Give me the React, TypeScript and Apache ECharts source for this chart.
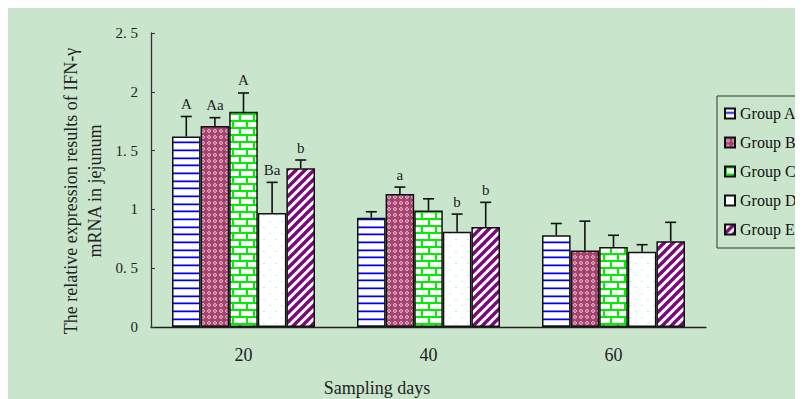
import React, { useEffect, useRef } from "react";
import * as echarts from "echarts";

const categories = ["20", "40", "60"];
const groupNames = ["Group A", "Group B", "Group C", "Group D", "Group E"];
const groupA = [1.62, 0.93, 0.78];
const groupB = [1.71, 1.13, 0.65];
const groupC = [1.83, 0.99, 0.68];
const groupD = [0.97, 0.81, 0.64];
const groupE = [1.35, 0.85, 0.73];
const errA = [0.17, 0.05, 0.1];
const errB = [0.07, 0.06, 0.25];
const errC = [0.16, 0.1, 0.1];
const errD = [0.26, 0.15, 0.06];
const errE = [0.07, 0.21, 0.16];
const letterA = ["A", "", ""];
const letterB = ["Aa", "a", ""];
const letterC = ["A", "", ""];
const letterD = ["Ba", "b", ""];
const letterE = ["b", "b", ""];

const BG = "#c9e6cd";
const FONT = "'Liberation Serif', 'Times New Roman', serif";
const CAT_GAP = 0.227;

function tile(w: number, h: number, draw: (c: CanvasRenderingContext2D) => void) {
  const cv = document.createElement("canvas");
  cv.width = w;
  cv.height = h;
  const ctx = cv.getContext("2d")!;
  draw(ctx);
  return { image: cv.toDataURL(), repeat: "repeat", imageWidth: w, imageHeight: h } as any;
}

function makePatterns() {
  const pA = tile(8, 23, (c) => {
    c.fillStyle = "#ffffff";
    c.fillRect(0, 0, 8, 23);
    for (const y of [3, 11, 18]) {
      c.fillStyle = "#7a7aff";
      c.fillRect(0, y, 8, 1);
      c.fillStyle = "#0000f0";
      c.fillRect(0, y + 1, 8, 1);
      c.fillStyle = "#c0c0ff";
      c.fillRect(0, y + 2, 8, 1);
    }
  });
  const pB = tile(6, 6, (c) => {
    c.fillStyle = "#a4446f";
    c.fillRect(0, 0, 6, 6);
    c.fillStyle = "#dca2bc";
    c.fillRect(2, 1, 2, 4);
    c.fillRect(1, 2, 4, 2);
    c.fillStyle = "#c27896";
    c.fillRect(2, 2, 2, 2);
  });
  const pC = tile(14, 14, (c) => {
    c.fillStyle = "#ffffff";
    c.fillRect(0, 0, 14, 14);
    c.fillStyle = "#00ee00";
    c.fillRect(0, 0, 14, 2);
    c.fillRect(0, 7, 14, 2);
    c.fillRect(0, 0, 2, 7);
    c.fillRect(7, 7, 2, 7);
  });
  const pD = tile(12, 12, (c) => {
    c.fillStyle = "#ffffff";
    c.fillRect(0, 0, 12, 12);
    c.fillStyle = "#b8f0f4";
    c.fillRect(3, 3, 2, 1);
    c.fillRect(9, 9, 2, 1);
  });
  const pE = tile(9, 9, (c) => {
    c.fillStyle = "#ffffff";
    c.fillRect(0, 0, 9, 9);
    c.strokeStyle = "#7a0a7a";
    c.lineWidth = 3.4;
    for (const off of [-9, 0, 9]) {
      c.beginPath();
      c.moveTo(off - 2, 11);
      c.lineTo(off + 11, -2);
      c.stroke();
    }
  });
  return [pA, pB, pC, pD, pE];
}

export default function App() {
  const ref = useRef<HTMLDivElement>(null);
  useEffect(() => {
    document.documentElement.style.overflow = "hidden";
    const chart = echarts.init(ref.current!, null, { renderer: "svg" });
    const patterns = makePatterns();
    const values = [groupA, groupB, groupC, groupD, groupE];
    const errs = [errA, errB, errC, errD, errE];
    const letters = [letterA, letterB, letterC, letterD, letterE];

    const barSeries = groupNames.map((name, i) => ({
      type: "bar",
      name,
      data: values[i],
      barGap: "0%",
      barCategoryGap: CAT_GAP * 100 + "%",
      itemStyle: { color: patterns[i], borderColor: "#111", borderWidth: 1.5 },
      z: 2,
    }));

    const errSeries = groupNames.map((name, i) => ({
      type: "custom",
      name: "err" + i,
      z: 3,
      encode: { x: 0, y: 1 },
      data: categories.map((_, k) => [k, values[i][k], errs[i][k]]),
      renderItem: (params: any, api: any) => {
        const k = api.value(0);
        const v = api.value(1);
        const e = api.value(2);
        const band = api.size([1, 0])[0];
        const bw = (band * (1 - CAT_GAP)) / 5;
        const p0 = api.coord([k, v]);
        const p1 = api.coord([k, v + e]);
        const x = p0[0] + (i - 2) * bw;
        const children: any[] = [
          { type: "line", shape: { x1: x, y1: p0[1], x2: x, y2: p1[1] }, style: { stroke: "#111", lineWidth: 1.6 } },
          { type: "line", shape: { x1: x - 5.5, y1: p1[1], x2: x + 5.5, y2: p1[1] }, style: { stroke: "#111", lineWidth: 1.6 } },
        ];
        const lab = letters[i][params.dataIndex];
        if (lab) {
          children.push({
            type: "text",
            style: {
              text: lab,
              x,
              y: p1[1] - 5,
              align: "center",
              verticalAlign: "bottom",
              font: "15px " + FONT,
              fill: "#222",
            },
          });
        }
        return { type: "group", children };
      },
    }));

    chart.setOption({
      animation: false,
      backgroundColor: BG,
      grid: { left: 143, top: 25, width: 555, height: 294 },
      legend: {
        data: groupNames,
        orient: "vertical",
        left: 709,
        top: 88,
        itemWidth: 10,
        itemHeight: 10,
        itemGap: 12,
        padding: [9, 10, 10, 7],
        borderColor: "#333",
        borderWidth: 1,
        backgroundColor: BG,
        icon: "rect",
        textStyle: { fontFamily: FONT, fontSize: 16, color: "#111", lineHeight: 17 },
      },
      xAxis: {
        type: "category",
        data: categories,
        axisLine: { lineStyle: { color: "#222", width: 1.3 } },
        axisTick: { inside: true, length: 5, lineStyle: { color: "#222" } },
        axisLabel: { fontFamily: FONT, fontSize: 18, color: "#222", margin: 19 },
      },
      yAxis: {
        type: "value",
        min: 0,
        max: 2.5,
        interval: 0.5,
        splitLine: { show: false },
        axisLine: { show: true, lineStyle: { color: "#333", width: 1.3 } },
        axisTick: { show: true, inside: true, length: 4, lineStyle: { color: "#333" } },
        axisLabel: {
          fontFamily: FONT,
          fontSize: 15,
          color: "#222",
          margin: 13,
          formatter: (v: number) => (Math.abs(v % 1) > 1e-9 ? v.toFixed(1).replace(".", ". ") : String(Math.round(v))),
        },
      },
      graphic: [
        {
          type: "text",
          x: 75,
          y: 183,
          rotation: Math.PI / 2,
          style: {
            text: "The relative expression results of IFN-\u03b3\nmRNA in jejunum",
            align: "center",
            verticalAlign: "middle",
            font: "18px " + FONT,
            lineHeight: 24,
            fill: "#222",
          },
        },
        {
          type: "text",
          x: 369,
          y: 380,
          style: {
            text: "Sampling days",
            align: "center",
            verticalAlign: "middle",
            font: "18px " + FONT,
            fill: "#222",
          },
        },
      ],
      series: [...barSeries, ...errSeries],
    });
    return () => chart.dispose();
  }, []);
  return <div ref={ref} style={{ width: 795, height: 391, background: BG }} />;
}
